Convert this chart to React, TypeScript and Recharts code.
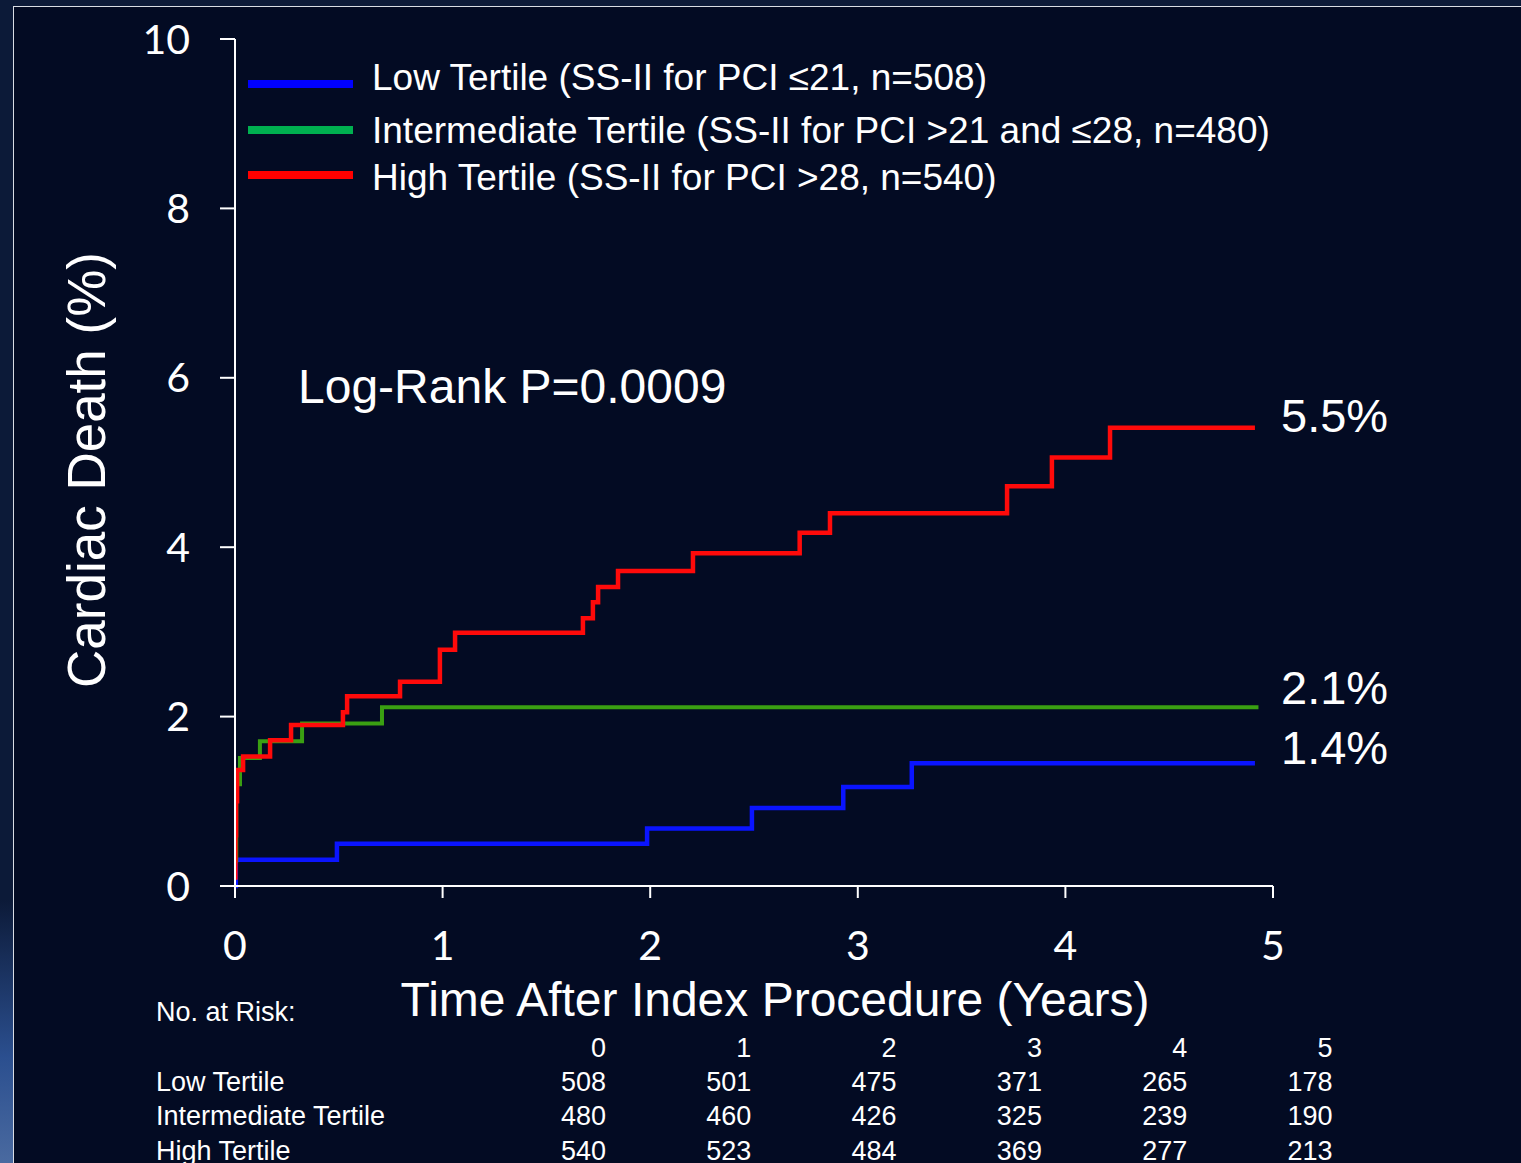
import { CartesianGrid, Line, LineChart, XAxis, YAxis } from "recharts";

const FONT = '"Liberation Sans", Arial, sans-serif';
const TICK_FONT = 'Lato, "Open Sans", sans-serif';

// Kaplan-Meier steps (years, % cardiac death)
const lowTimes = [0, 0.004, 0.491, 1.985, 2.49, 2.93, 3.26, 4.913];
const lowValues = [0, 0.31, 0.5, 0.68, 0.92, 1.17, 1.45, 1.45];

const midTimes = [0, 0.006, 0.024, 0.12, 0.323, 0.708, 4.93];
const midValues = [0.3, 1.2, 1.51, 1.71, 1.92, 2.11, 2.11];

const highTimes = [
  0, 0.002, 0.005, 0.01, 0.039, 0.169, 0.27, 0.52, 0.54, 0.795, 0.987, 1.06, 1.676, 1.724, 1.749,
  1.845, 2.206, 2.72, 2.866, 3.719, 3.935, 4.215, 4.913,
];
const highValues = [
  0.1, 0.6, 1.0, 1.37, 1.53, 1.72, 1.9, 2.05, 2.24, 2.41, 2.79, 2.99, 3.16, 3.35, 3.53, 3.72, 3.93,
  4.17, 4.4, 4.72, 5.06, 5.41, 5.41,
];

const xTicks = [0, 1, 2, 3, 4, 5];
const yTicks = [0, 2, 4, 6, 8, 10];

const seriesNames = [
  "Low Tertile (SS-II for PCI ≤21, n=508)",
  "Intermediate Tertile (SS-II for PCI >21 and ≤28, n=480)",
  "High Tertile (SS-II for PCI >28, n=540)",
];
const seriesColors = ["#0000ff", "#00b050", "#ff0000"];
const lineColors = ["#0a14ff", "#3aa012", "#ff0a0a"];
const endLabels = ["1.4%", "2.1%", "5.5%"];

const riskYears = [0, 1, 2, 3, 4, 5];
const riskGroups = ["Low Tertile", "Intermediate Tertile", "High Tertile"];
const riskLow = [508, 501, 475, 371, 265, 178];
const riskMid = [480, 460, 426, 325, 239, 190];
const riskHigh = [540, 523, 484, 369, 277, 213];

const toPoints = (times: number[], values: number[]) =>
  times.map((t, i) => ({ t, v: values[i] }));

function Txt({
  x,
  cy,
  size,
  children,
  align = "left",
}: {
  x: number;
  cy: number;
  size: number;
  children: React.ReactNode;
  align?: "left" | "right" | "center";
}) {
  const style: React.CSSProperties = {
    position: "absolute",
    top: cy - size / 2,
    fontSize: size,
    lineHeight: `${size}px`,
    whiteSpace: "nowrap",
    color: "#ffffff",
    fontFamily: FONT,
  };
  if (align === "left") style.left = x;
  else if (align === "right") style.right = 1521 - x;
  else {
    style.left = x - 500;
    style.width = 1000;
    style.textAlign = "center";
  }
  return <div style={style}>{children}</div>;
}

export default function App() {
  const low = toPoints(lowTimes, lowValues);
  const mid = toPoints(midTimes, midValues);
  const high = toPoints(highTimes, highValues);
  const riskRows = [riskLow, riskMid, riskHigh];
  const legendLineY = [84, 130, 175];
  const legendTextY = [77, 130, 177];
  const endY = [747, 687, 415];

  return (
    <div
      style={{
        position: "absolute",
        left: 0,
        top: 0,
        width: 1521,
        height: 1163,
        background: "#0c1a38",
        overflow: "hidden",
        fontFamily: FONT,
      }}
    >
      <div
        style={{
          position: "absolute",
          left: 0,
          top: 900,
          width: 13,
          height: 263,
          background: "linear-gradient(#0c1a38, #2b4f8f 60%, #4a6aa0)",
        }}
      />
      <div
        style={{
          position: "absolute",
          left: 13,
          top: 6,
          width: 1521,
          height: 1200,
          background: "#030b23",
          border: "1.5px solid #d8dce4",
        }}
      />
      <div style={{ position: "absolute", left: 0, top: 0 }}>
        <LineChart
          width={1521}
          height={1163}
          margin={{ top: 39, right: 248, bottom: 217, left: 135 }}
        >
          <CartesianGrid stroke="none" />
          <XAxis
            type="number"
            dataKey="t"
            domain={[0, 5]}
            ticks={xTicks}
            allowDataOverflow
            height={60}
            stroke="#ffffff"
            strokeWidth={2}
            tickSize={12}
            tickMargin={33}
            tick={{ fill: "#ffffff", fontSize: 41, fontFamily: TICK_FONT }}
          />
          <YAxis
            type="number"
            domain={[0, 10]}
            ticks={yTicks}
            width={100}
            stroke="#ffffff"
            strokeWidth={2}
            tickSize={15}
            tickMargin={30}
            tick={{ fill: "#ffffff", fontSize: 41, fontFamily: TICK_FONT }}
          />
          <Line
            data={low}
            dataKey="v"
            type="stepAfter"
            stroke={lineColors[0]}
            strokeWidth={4.5}
            dot={false}
            isAnimationActive={false}
          />
          <Line
            data={mid}
            dataKey="v"
            type="stepAfter"
            stroke={lineColors[1]}
            strokeWidth={4}
            dot={false}
            isAnimationActive={false}
          />
          <Line
            data={high}
            dataKey="v"
            type="stepAfter"
            stroke={lineColors[2]}
            strokeWidth={4.5}
            dot={false}
            isAnimationActive={false}
          />
        </LineChart>
      </div>

      {/* legend */}
      {seriesNames.map((name, i) => (
        <div key={name}>
          <div
            style={{
              position: "absolute",
              left: 248,
              top: legendLineY[i] - 4,
              width: 105,
              height: 8,
              background: seriesColors[i],
            }}
          />
          <Txt x={372} cy={legendTextY[i]} size={37}>
            {name}
          </Txt>
        </div>
      ))}

      <Txt x={298} cy={387} size={48}>
        Log-Rank P=0.0009
      </Txt>
      {endLabels.map((label, i) => (
        <Txt key={label} x={1281} cy={endY[i]} size={47}>
          {label}
        </Txt>
      ))}

      {/* axis titles */}
      <div
        style={{
          position: "absolute",
          left: 87 - 300,
          top: 470 - 27,
          width: 600,
          height: 54,
          lineHeight: "54px",
          fontSize: 53,
          textAlign: "center",
          color: "#ffffff",
          transform: "rotate(-90deg)",
          whiteSpace: "nowrap",
        }}
      >
        Cardiac Death (%)
      </div>
      <Txt x={775} cy={1000} size={48} align="center">
        Time After Index Procedure (Years)
      </Txt>

      {/* numbers at risk */}
      <Txt x={156} cy={1012} size={27}>
        No. at Risk:
      </Txt>
      {riskYears.map((yr, j) => (
        <Txt key={`h${yr}`} x={606 + j * 145.3} cy={1048} size={27} align="right">
          {yr}
        </Txt>
      ))}
      {riskGroups.map((g, i) => (
        <div key={g}>
          <Txt x={156} cy={1082 + i * 34.5} size={27}>
            {g}
          </Txt>
          {riskRows[i].map((n, j) => (
            <Txt key={`${g}${j}`} x={606 + j * 145.3} cy={1082 + i * 34.5} size={27} align="right">
              {n}
            </Txt>
          ))}
        </div>
      ))}
    </div>
  );
}
